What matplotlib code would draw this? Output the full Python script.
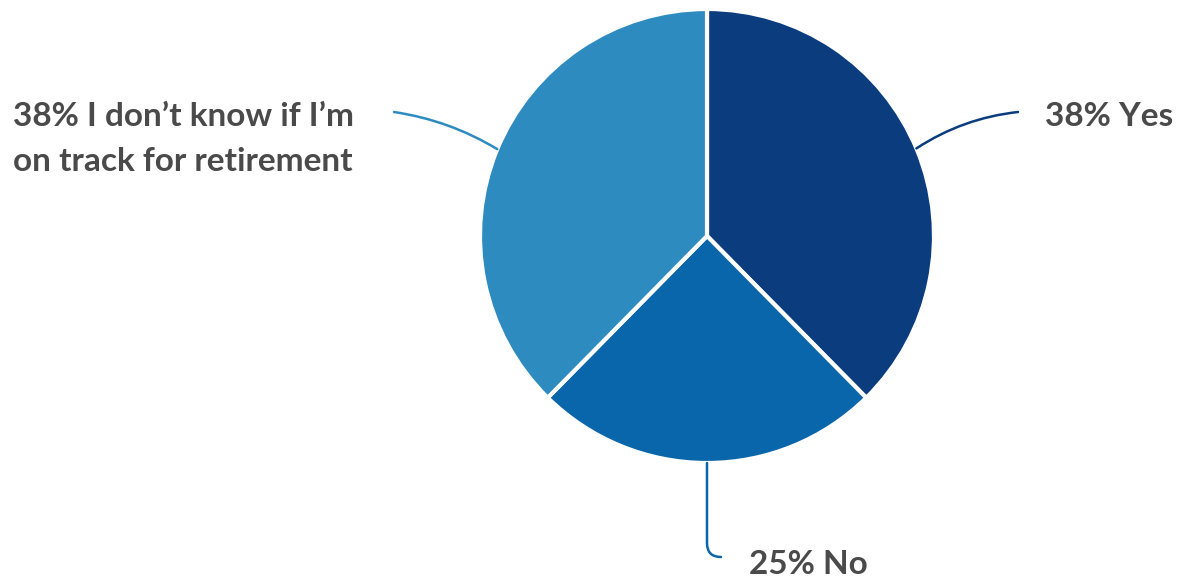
import matplotlib
matplotlib.use("Agg")
import matplotlib.pyplot as plt
import numpy as np

labels = ["Yes", "No", "I don\u2019t know if I\u2019m\non track for retirement"]
values = [38, 25, 38]
colors = ["#0B3D7E", "#0A66AA", "#2E8BC0"]

W, H = 1184, 580
fig = plt.figure(figsize=(W / 100, H / 100), dpi=100)
ax = fig.add_axes([0, 0, 1, 1])

cx, cy, r = 707, 344, 227
wedges, _ = ax.pie(values, colors=colors, startangle=90, counterclock=False,
                   center=(cx, cy), radius=r, frame=True,
                   wedgeprops=dict(edgecolor="white", linewidth=3))
ax.set_xlim(0, W)
ax.set_ylim(0, H)
ax.set_aspect("equal")
ax.axis("off")

txt = dict(fontsize=24, fontweight="bold", color="#4a4a4a", family=["Lato", "DejaVu Sans"])

def pt(angle_deg, rr=r):
    a = np.deg2rad(angle_deg)
    return (cx + rr * np.cos(a), cy + rr * np.sin(a))

# Yes
ax.annotate("", xy=pt(22.7), xytext=(1018, 468),
            arrowprops=dict(arrowstyle="-", color=colors[0], lw=1.8,
                            connectionstyle="arc3,rad=0.12", shrinkA=0, shrinkB=0))
ax.text(1045, 463, f"{values[0]}% {labels[0]}", ha="left", va="center", **txt)

# No
ax.annotate("", xy=pt(-90), xytext=(721, 23),
            arrowprops=dict(arrowstyle="-", color=colors[1], lw=1.8,
                            connectionstyle="angle,angleA=180,angleB=90,rad=14",
                            shrinkA=0, shrinkB=0))
ax.text(749, 15, f"{values[1]}% {labels[1]}", ha="left", va="center", **txt)

# Don't know
ax.annotate("", xy=pt(157.5), xytext=(394, 468),
            arrowprops=dict(arrowstyle="-", color=colors[2], lw=1.8,
                            connectionstyle="arc3,rad=-0.1", shrinkA=0, shrinkB=0))
ax.text(13, 441, f"{values[2]}% {labels[2]}", ha="left", va="center",
        linespacing=1.7, **txt)

fig.savefig("out.png", dpi=100, facecolor="white")
